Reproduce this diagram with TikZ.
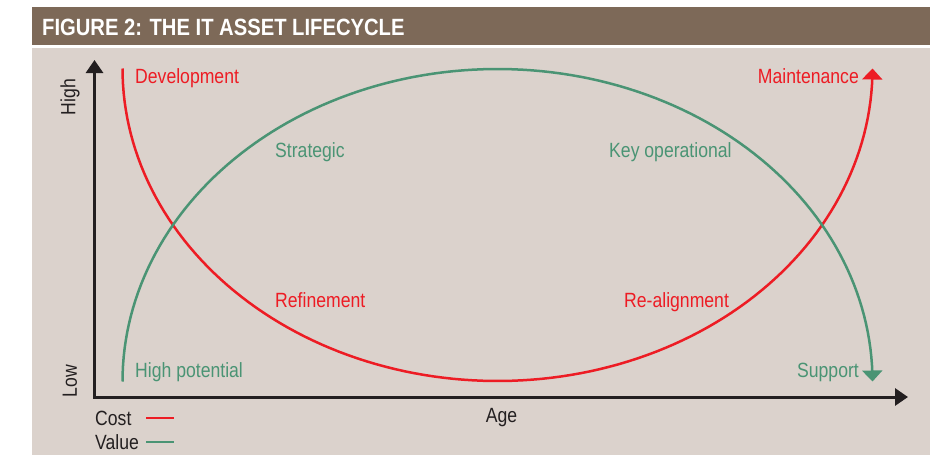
\documentclass[tikz,border=0pt]{standalone}
\usepackage{fontspec}
\setmainfont{Liberation Sans}[FakeStretch=0.855]
\newfontfamily\titlefont{Liberation Sans}[FakeStretch=0.86]
\usetikzlibrary{arrows.meta}
\definecolor{lcbrown}{HTML}{7D6958}
\definecolor{lcpanel}{HTML}{DBD2CC}
\definecolor{lcred}{HTML}{ED1C24}
\definecolor{lcgreen}{HTML}{4A9474}
\definecolor{lcink}{HTML}{231F20}

\begin{document}
\begin{tikzpicture}[x=1pt, y=-1pt, font=\fontsize{20.6}{22}\selectfont,
      lbl/.style={inner sep=0pt, anchor=base west},
      axis/.style={lcink, line width=3pt, line join=miter, {Triangle[width=17pt,length=13pt]}-{Triangle[width=17pt,length=13pt]}},
      curve/.style={line width=2.5pt, -{Triangle[width=20pt,length=11pt]}},
      key/.style={line width=2.5pt}]
      \useasboundingbox (0,0) rectangle (944,455);
      \fill[lcbrown] (32,7) rectangle (930,45);
      \fill[lcpanel] (32,48) rectangle (930,455);
      \node[lbl, text=white, font=\titlefont\bfseries\fontsize{23.5}{26}\selectfont] (title) at (42,35) {FIGURE 2: THE IT ASSET LIFECYCLE};
      % axes
      \coordinate (origin) at (94.5,397);
      \coordinate (ytop) at (94.5,60);
      \coordinate (xend) at (908,397);
      \draw[axis] (ytop) -- (origin) -- (xend);
      \node[text=lcink, rotate=90, inner sep=0pt] (high) at (70,97) {High};
      \node[text=lcink, rotate=90, inner sep=0pt] (low) at (70,381) {Low};
      \node[lbl, anchor=base, text=lcink] (age) at (501.5,422) {Age};
      % cost and value curves
      \draw[curve, lcred] plot[domain=180:360, samples=120] ({497.5+375*cos(\x)}, {68.5-312.5*sin(\x)});
      \draw[curve, lcgreen] plot[domain=180:360, samples=120] ({497.5+375*cos(\x)}, {381.5+312.5*sin(\x)});
      \node[lbl, text=lcred] (dev) at (135,83) {Development};
      \node[lbl, anchor=base east, text=lcred] (maint) at (859,83) {Maintenance};
      \node[lbl, text=lcred] (refine) at (275,307) {Refinement};
      \node[lbl, text=lcred] (realign) at (624,307) {Re-alignment};
      \node[lbl, text=lcgreen] (strat) at (275,157) {Strategic};
      \node[lbl, text=lcgreen] (keyop) at (609,157) {Key operational};
      \node[lbl, text=lcgreen] (hipot) at (135,377) {High potential};
      \node[lbl, anchor=base east, text=lcgreen] (support) at (859,377) {Support};
      % legend
      \node[lbl, text=lcink] (cost) at (95,425) {Cost};
      \node[lbl, text=lcink] (value) at (95,449) {Value};
      \coordinate (costkey) at (146,418);
      \coordinate (valuekey) at (146,442);
      \draw[key, lcred] (costkey) -- ++(28,0);
      \draw[key, lcgreen] (valuekey) -- ++(28,0);
    \end{tikzpicture}
\end{document}
